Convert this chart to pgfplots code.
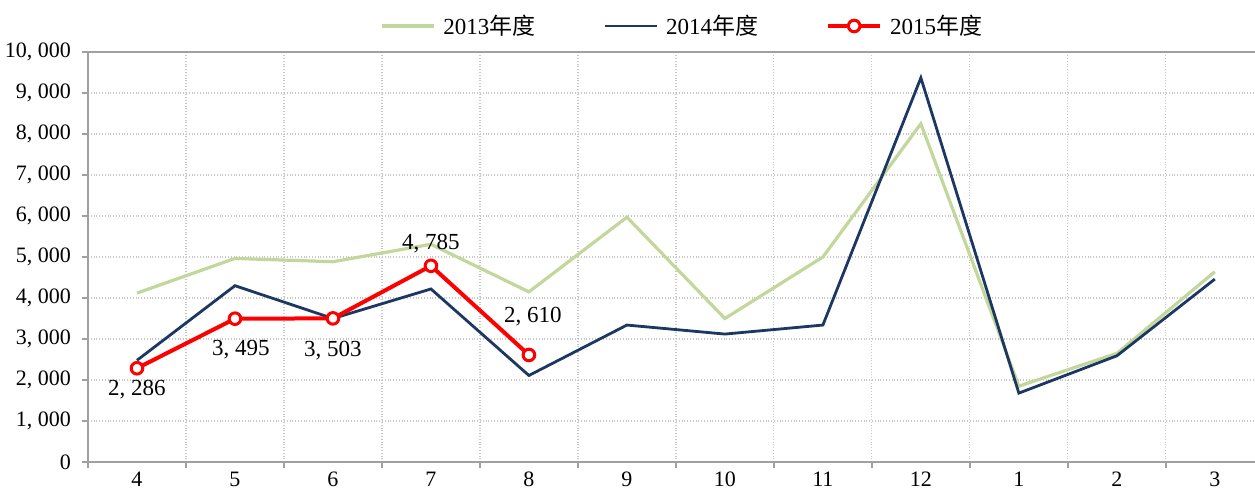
\documentclass[border=0pt]{standalone}
\usepackage{fontspec}
\setmainfont{Liberation Serif}
\newfontfamily\cjk{Noto Sans CJK SC}
\usepackage{pgfplots}
\usepackage{pgfplotstable}
\pgfplotsset{compat=1.18}
\definecolor{cgreen}{HTML}{C3D69B}
\definecolor{cnavy}{HTML}{1C3762}
\definecolor{cgray}{HTML}{A0A0A0}
\definecolor{cgrid}{HTML}{C8C8C8}

\pgfplotstableread{
x y
0 4120
1 4965
2 4885
3 5310
4 4150
5 5970
6 3500
7 5000
8 8250
9 1850
10 2650
11 4640
}\dataA
\pgfplotstableread{
x y
0 2480
1 4300
2 3500
3 4220
4 2110
5 3340
6 3120
7 3340
8 9370
9 1680
10 2590
11 4460
}\dataB
\pgfplotstableread{
x y dx dy lab
0 2286 0 -10.5 {2, 286}
1 3495 3 -15.5 {3, 495}
2 3503 0 -16 {3, 503}
3 4785 0 11 {4, 785}
4 2610 2 19 {2, 610}
}\dataC

\begin{document}
\begin{tikzpicture}
\begin{axis}[
  scale only axis, width=583.5pt, height=205pt,
  xmin=-0.5, xmax=11.41, ymin=0, ymax=10000,
  scaled y ticks=false,
  axis x line*=bottom, axis y line*=left,
  axis line style={cgray, line width=1pt},
  xtick={0,...,11}, xticklabels={4,5,6,7,8,9,10,11,12,1,2,3},
  minor xtick={-0.5,0.5,...,10.5},
  xminorgrids=true,
  minor grid style={cgrid, densely dotted, line width=0.6pt},
  major x tick style={draw=none},
  minor x tick style={cgray, line width=1pt},
  tick align=outside, major tick length=3pt, minor tick length=3pt,
  ytick={0,1000,...,10000},
  yticklabels={0,{1, 000},{2, 000},{3, 000},{4, 000},{5, 000},{6, 000},{7, 000},{8, 000},{9, 000},{10, 000}},
  ymajorgrids=true,
  major grid style={cgrid, densely dotted, line width=0.6pt},
  y tick style={cgray, line width=1pt},
  tick label style={font=\fontsize{11}{13}\selectfont, text=black},
  xticklabel style={yshift=1.5pt},
  yticklabel style={xshift=-2pt},
  legend columns=3,
  legend style={at={(0.510,1)}, anchor=center, yshift=13pt, draw=none, fill=none,
    font=\fontsize{11.5}{13}\selectfont, inner sep=0pt,
    /tikz/every odd column/.append style={column sep=2pt},
    /tikz/every even column/.append style={column sep=32pt}},
  legend image code/.code={\draw[mark repeat=2,mark phase=2,#1] plot coordinates {(0pt,0pt) (13pt,0pt) (26pt,0pt)};},
  legend cell align=left,
  clip=false,
]
\addplot[cgreen, line width=1.6pt, mark=none] table[x=x,y=y] {\dataA};
\addlegendentry{2013{\cjk 年度}}
\addplot[cnavy, line width=1.4pt, mark=none] table[x=x,y=y] {\dataB};
\addlegendentry{2014{\cjk 年度}}
\addplot[red, line width=2pt, mark=*, mark size=2.9pt,
  mark options={fill=white, draw=red, line width=1.5pt},
  visualization depends on={\thisrow{dx} \as \dx},
  visualization depends on={\thisrow{dy} \as \dy},
  nodes near coords=\pgfplotspointmeta,
  point meta=explicit symbolic,
  every node near coord/.style={anchor=center, xshift=\dx pt, yshift=\dy pt,
    font=\fontsize{11.5}{13}\selectfont, text=black, inner sep=0pt}
] table[x=x,y=y,meta=lab] {\dataC};
\addlegendentry{2015{\cjk 年度}}
\draw[cgray, line width=1pt] (rel axis cs:0,1) -- (rel axis cs:1,1);
\end{axis}
\pgfresetboundingbox
\path ([xshift=-44pt,yshift=-15pt]current axis.south west) rectangle ([yshift=26pt]current axis.north east);
\end{tikzpicture}
\end{document}
